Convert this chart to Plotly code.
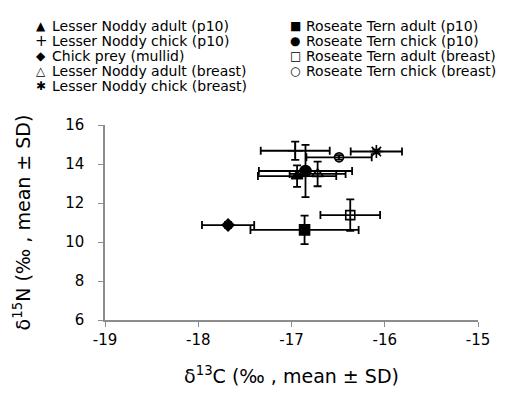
import plotly.graph_objects as go

# ---- data ----
series_names = [
    "Lesser Noddy adult (p10)",
    "Lesser Noddy chick (p10)",
    "Chick prey (mullid)",
    "Lesser Noddy adult (breast)",
    "Lesser Noddy chick (breast)",
    "Roseate Tern adult (p10)",
    "Roseate Tern chick (p10)",
    "Roseate Tern adult (breast)",
    "Roseate Tern chick (breast)",
]
d13C_mean = [-16.94, -16.96, -17.68, -16.72, -16.09, -16.86, -16.85, -16.37, -16.49]
d13C_sd = [0.42, 0.37, 0.28, 0.30, 0.275, 0.58, 0.50, 0.32, 0.35]
d15N_mean = [13.38, 14.68, 10.87, 13.49, 14.64, 10.62, 13.64, 11.38, 14.34]
d15N_sd = [0.55, 0.47, 0.15, 0.63, 0.10, 0.73, 1.34, 0.81, 0.12]

x_ticks = [-19, -18, -17, -16, -15]
y_ticks = [6, 8, 10, 12, 14, 16]

# ---- styles ----
symbols = ["triangle-up", "cross-thin-open", "diamond", "triangle-up-open",
           "asterisk-open", "square", "circle", "square-open", "circle-open"]
sizes = [10, 11, 9, 10, 11, 10, 11, 9, 9]
legend_glyphs = ["▲", "+", "◆", "△", "✱", "■", "●", "□", "○"]
glyph_sizes = [12, 15, 12, 12, 12, 12, 12, 12, 12]

W, H = 513, 396
ML, MR, MT, MB = 97, 43, 117, 84
PW, PH = W - ML - MR, H - MT - MB
FONT = "DejaVu Sans, Liberation Sans, Arial, sans-serif"


def px_to_paper(px, py):
    return (px - ML) / PW, (H - MB - py) / PH


fig = go.Figure()
for i, name in enumerate(series_names):
    fig.add_trace(go.Scatter(
        x=[d13C_mean[i]], y=[d15N_mean[i]], name=name, mode="markers",
        marker=dict(symbol=symbols[i], size=sizes[i], color="black",
                    line=dict(color="black", width=1.6)),
        error_x=dict(type="data", array=[d13C_sd[i]], color="black",
                     thickness=1.8, width=4),
        error_y=dict(type="data", array=[d15N_sd[i]], color="black",
                     thickness=1.8, width=4),
        showlegend=False,
    ))

# legend drawn as text rows (two columns): glyph + label
glyph_x = [33, 287]
text_x = [42, 296]
row_y = [17.5, 32.7, 47.9, 63.1, 78.3]
annotations = []
for i, name in enumerate(series_names):
    col = 0 if i < 5 else 1
    row = i if i < 5 else i - 5
    gx, gy = px_to_paper(glyph_x[col], row_y[row])
    tx, ty = px_to_paper(text_x[col], row_y[row])
    annotations.append(dict(
        x=gx, y=gy, xref="paper", yref="paper", xanchor="center", yanchor="middle",
        text=legend_glyphs[i], showarrow=False,
        font=dict(family=FONT, size=glyph_sizes[i], color="black"),
    ))
    annotations.append(dict(
        x=tx, y=ty, xref="paper", yref="paper", xanchor="left", yanchor="middle",
        text=name, showarrow=False,
        font=dict(family=FONT, size=14, color="black"),
    ))

fig.update_layout(
    width=W, height=H,
    margin=dict(l=ML, r=MR, t=MT, b=MB),
    paper_bgcolor="white", plot_bgcolor="white",
    font=dict(family=FONT, color="black"),
    annotations=annotations,
    xaxis=dict(
        range=[-19, -15], tickvals=x_ticks, ticktext=[str(v) for v in x_ticks],
        showgrid=False, zeroline=False, showline=True, linecolor="#8c8c8c",
        linewidth=1.5, ticks="outside", ticklen=5, tickcolor="#8c8c8c",
        tickfont=dict(size=15, color="black"),
        title=dict(text="δ<sup>13</sup>C (‰ , mean ± SD)",
                   font=dict(size=19, color="black"), standoff=22),
    ),
    yaxis=dict(
        range=[6, 16], tickvals=y_ticks, ticktext=[str(v) for v in y_ticks],
        showgrid=False, zeroline=False, showline=True, linecolor="#8c8c8c",
        linewidth=1.5, ticks="outside", ticklen=5, tickcolor="#8c8c8c",
        ticklabelstandoff=11,
        tickfont=dict(size=15, color="black"),
        title=dict(text="δ<sup>15</sup>N (‰ , mean ± SD)",
                   font=dict(size=19, color="black"), standoff=30),
    ),
)

fig.write_html("out.html")
